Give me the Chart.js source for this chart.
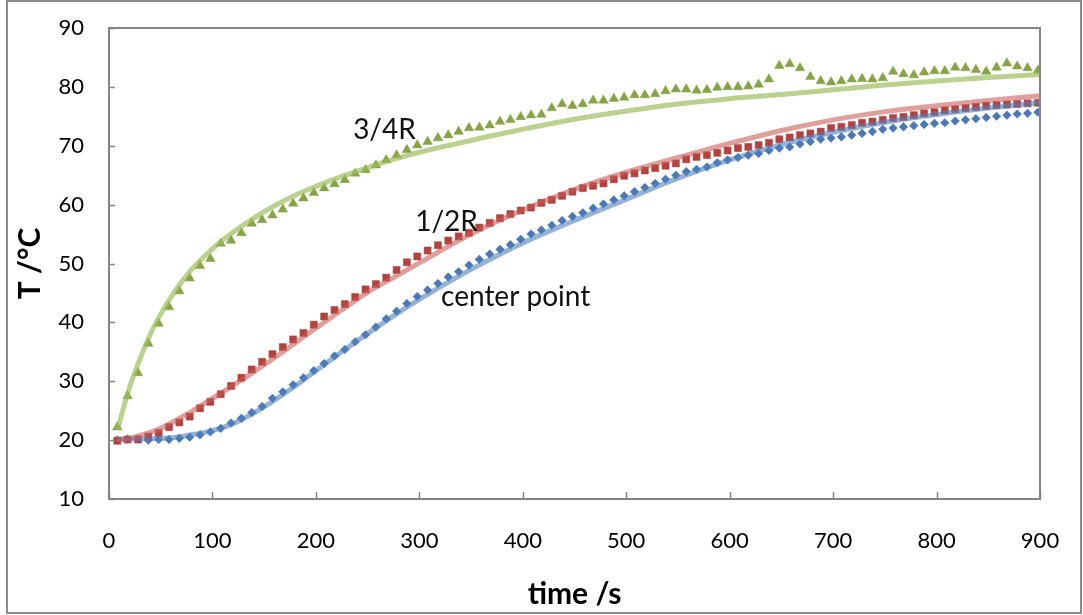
<!DOCTYPE html>
<html><head><meta charset="utf-8">
<script src="https://cdn.jsdelivr.net/npm/chart.js@4/dist/chart.umd.min.js"></script>
<style>html,body{margin:0;padding:0;background:#fff;overflow:hidden}</style>
</head><body>
<canvas id="c" width="1083" height="615" style="width:1083px;height:615px;display:block"></canvas>
<script>
// ---- data ----
const times = [8,18,28,38,48,58,68,78,88,98,
  108,118,128,138,148,158,168,178,188,198,
  208,218,228,238,248,258,268,278,288,298,
  308,318,328,338,348,358,368,378,388,398,
  408,418,428,438,448,458,468,478,488,498,
  508,518,528,538,548,558,568,578,588,598,
  608,618,628,638,648,658,668,678,688,698,
  708,718,728,738,748,758,768,778,788,798,
  808,818,828,838,848,858,868,878,888,898];
const t34R = [22.2,27.5,31.4,36.4,39.8,42.6,45.3,47.5,49.6,50.8,
  53.4,53.9,55.2,56.8,57.4,58.2,59.2,60.2,61.1,62.0,
  62.8,63.5,64.2,65.3,65.9,66.7,67.6,68.4,69.3,70.1,
  70.7,71.3,71.8,72.4,73.0,73.1,73.5,74.1,74.4,74.9,
  75.2,75.3,76.4,77.1,76.8,77.1,77.7,77.7,78.0,78.2,
  78.6,78.6,78.8,79.3,79.6,79.6,79.4,79.5,79.9,80.0,
  80.0,80.1,80.4,81.3,83.6,83.9,83.2,81.7,81.0,80.8,
  81.0,81.3,81.4,81.3,81.5,82.6,82.2,82.0,82.5,82.7,
  82.7,83.3,83.2,82.9,82.6,83.3,84.0,83.5,83.2,82.8];
const t12R = [19.9,20.1,20.1,20.6,21.2,22.2,23.0,24.0,25.4,26.5,
  27.8,29.2,30.6,32.0,33.3,34.6,35.8,37.1,38.2,39.6,
  41.0,42.1,43.1,44.3,45.6,46.5,47.6,48.9,50.2,51.2,
  52.2,53.1,53.9,54.6,55.2,56.1,56.9,57.7,58.4,59.0,
  59.5,60.3,60.8,61.5,62.2,62.8,63.2,63.6,64.3,64.9,
  65.3,65.8,66.2,66.6,67.0,67.7,68.1,68.4,68.8,69.2,
  69.6,69.8,70.1,70.5,71.1,71.4,71.8,72.1,72.4,73.0,
  73.2,73.5,73.9,74.1,74.4,74.7,74.9,75.2,75.5,75.7,
  76.0,76.2,76.4,76.6,76.8,76.9,77.0,77.1,77.2,77.3];
const tCenter = [20.0,20.2,20.2,20.0,20.1,20.1,20.3,20.5,20.9,21.4,
  22.0,22.9,23.7,24.7,25.7,27.1,28.2,29.4,30.6,31.8,
  33.0,34.3,35.4,36.7,37.9,39.2,40.6,41.9,43.2,44.4,
  45.5,46.6,47.7,48.6,49.7,50.7,51.6,52.4,53.2,54.1,
  55.0,55.7,56.5,57.3,58.0,58.6,59.4,60.1,60.8,61.5,
  62.2,62.9,63.6,64.3,65.0,65.6,66.0,66.4,67.1,67.6,
  68.0,68.4,68.7,69.2,69.6,69.8,70.3,70.7,71.1,71.3,
  71.5,71.8,72.1,72.4,72.8,73.0,73.2,73.4,73.6,73.8,
  73.9,74.2,74.4,74.6,74.8,75.0,75.2,75.4,75.5,75.7];
const fitTimes = [8,20,30,40,50,60,70,80,100,120,140,160,180,200,225,250,275,300,350,400,450,500,550,600,650,700,750,800,850,900];
const fit34R =   [21.7,29.0,33.8,38.0,41.4,44.3,46.8,49.0,52.5,55.3,57.7,59.8,61.6,63.1,64.8,66.3,67.7,68.9,70.9,72.8,74.5,75.9,77.1,78.0,78.7,79.5,80.3,81.0,81.6,82.1];
const fit12R =   [20.0,20.3,20.8,21.3,22.0,22.9,23.9,24.9,27.1,29.3,31.6,34.0,36.5,39.0,42.1,45.1,47.6,50.1,55.0,59.1,62.6,65.5,68.0,70.4,72.6,74.4,75.8,76.8,77.7,78.5];
const fitCenter = [20.2,20.2,20.2,20.2,20.3,20.4,20.6,20.9,21.6,22.8,24.6,26.8,29.2,31.8,35.0,38.1,41.1,43.9,49.0,53.5,57.3,60.9,64.5,67.6,70.2,72.3,74.0,75.3,76.4,77.3];
const xTickValues = [0,100,200,300,400,500,600,700,800,900];
const yTickValues = [10,20,30,40,50,60,70,80,90];
const curveLabels = ['3/4R','1/2R','center point'];
const xTitle = 'time /s';
const yTitle = 'T /°C';

// ---- helpers / style ----
const pts = (xs, ys) => xs.map((x, i) => ({x: x, y: ys[i]}));
const labelAnchors = [{x: 236, y: 71.2}, {x: 296, y: 55.6}, {x: 321, y: 42.8}];

const framePlugin = {
  id: 'frame',
  beforeDraw(chart) {
    const c = chart.ctx;
    c.save(); c.fillStyle = '#fff'; c.fillRect(0, 0, chart.width, chart.height); c.restore();
  },
  afterDraw(chart) {
    const c = chart.ctx, a = chart.chartArea;
    const xs = chart.scales.x, ys = chart.scales.y;
    c.save();
    c.strokeStyle = '#858585'; c.lineWidth = 2;
    c.strokeRect(a.left, a.top, a.right - a.left, a.bottom - a.top);
    c.lineWidth = 1.5; c.beginPath();
    xTickValues.forEach(v => { const p = Math.round(xs.getPixelForValue(v)) + 0.5; c.moveTo(p, a.bottom); c.lineTo(p, a.bottom - 7); });
    yTickValues.forEach(v => { const p = Math.round(ys.getPixelForValue(v)) + 0.5; c.moveTo(a.left, p); c.lineTo(a.left + 6, p); });
    c.stroke();
    c.fillStyle = '#111'; c.font = '28px Lato'; c.textAlign = 'left'; c.textBaseline = 'alphabetic';
    curveLabels.forEach((t, i) => {
      c.fillText(t, xs.getPixelForValue(labelAnchors[i].x), ys.getPixelForValue(labelAnchors[i].y));
    });
    c.strokeStyle = '#8c8c8c'; c.lineWidth = 2;
    c.strokeRect(7, 1, 1074, 612);
    c.restore();
  }
};

Chart.defaults.font.family = 'Lato';
Chart.defaults.color = '#000';

const markerDs = (label, data, color, style, r) => ({
  type: 'scatter', label, data, showLine: false, order: 1,
  pointStyle: style, pointRadius: r, pointHoverRadius: r,
  backgroundColor: color, borderColor: color, pointBorderWidth: 0.5
});
const fitDs = (label, data, color) => ({
  type: 'line', label, data, order: 0, showLine: true,
  borderColor: color, borderWidth: 5, pointRadius: 0,
  cubicInterpolationMode: 'monotone', fill: false
});

new Chart(document.getElementById('c'), {
  type: 'scatter',
  data: {
    datasets: [
      markerDs('3/4R', pts(times, t34R), '#86A346', 'triangle', 5.5),
      markerDs('1/2R', pts(times, t12R), '#B3423F', 'rect', 5),
      markerDs('center point', pts(times, tCenter), '#4A78B5', 'rectRot', 4.3),
      fitDs('3/4R fit', pts(fitTimes, fit34R), 'rgba(155,187,89,0.68)'),
      fitDs('1/2R fit', pts(fitTimes, fit12R), 'rgba(200,90,87,0.58)'),
      fitDs('center fit', pts(fitTimes, fitCenter), 'rgba(79,129,189,0.6)')
    ]
  },
  options: {
    responsive: false, animation: false, devicePixelRatio: 1,
    layout: {padding: {left: 8, top: 28, right: 43, bottom: 0}},
    plugins: {legend: {display: false}, tooltip: {enabled: false}},
    scales: {
      x: {
        type: 'linear', min: 0, max: 900,
        afterBuildTicks: s => { s.ticks = xTickValues.map(v => ({value: v})); },
        afterFit: s => { s.height = 116; s.paddingLeft = 0; s.paddingRight = 0; },
        grid: {display: false, drawTicks: false}, border: {display: false},
        ticks: {padding: 29, font: {size: 22}, color: '#000', maxRotation: 0},
        title: {display: true, text: xTitle, font: {size: 30, weight: 'bold'}, color: '#000', padding: {top: 0, bottom: 3}}
      },
      y: {
        type: 'linear', min: 10, max: 90,
        afterBuildTicks: s => { s.ticks = yTickValues.map(v => ({value: v})); },
        afterFit: s => { s.width = 101; s.paddingTop = 0; s.paddingBottom = 0; },
        grid: {display: false, drawTicks: false}, border: {display: false},
        ticks: {padding: 25, font: {size: 22}, color: '#000'},
        title: {display: true, text: yTitle, font: {size: 30, weight: 'bold'}, color: '#000', padding: {top: 4, bottom: 0}}
      }
    }
  },
  plugins: [framePlugin]
});
</script>
</body></html>
